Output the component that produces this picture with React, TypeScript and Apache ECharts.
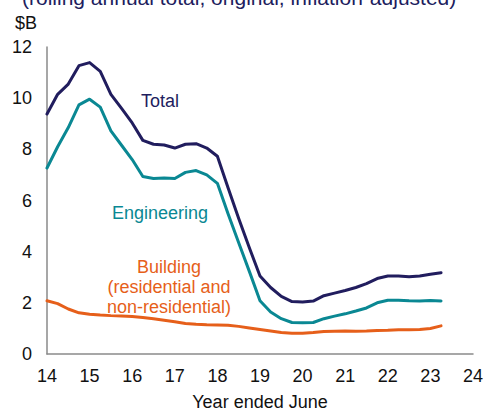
import React, { useEffect, useRef } from "react";
import * as echarts from "echarts";

const quarters = [
  14.0, 14.25, 14.5, 14.75, 15.0, 15.25, 15.5, 15.75, 16.0, 16.25, 16.5, 16.75,
  17.0, 17.25, 17.5, 17.75, 18.0, 18.25, 18.5, 18.75, 19.0, 19.25, 19.5, 19.75,
  20.0, 20.25, 20.5, 20.75, 21.0, 21.25, 21.5, 21.75, 22.0, 22.25, 22.5, 22.75,
  23.0, 23.25,
];

const total = [
  9.38, 10.15, 10.55, 11.27, 11.39, 11.05, 10.15, 9.6, 9.03, 8.35, 8.2, 8.17,
  8.05, 8.2, 8.22, 8.05, 7.73, 6.5, 5.3, 4.15, 3.05, 2.6, 2.25, 2.05,
  2.03, 2.07, 2.28, 2.38, 2.48, 2.6, 2.75, 2.95, 3.05, 3.05, 3.02, 3.05,
  3.12, 3.18,
];

const engineering = [
  7.27, 8.1, 8.85, 9.74, 9.96, 9.65, 8.72, 8.16, 7.6, 6.94, 6.86, 6.88,
  6.86, 7.1, 7.17, 7.0, 6.67, 5.48, 4.35, 3.23, 2.08, 1.64, 1.38, 1.23,
  1.22, 1.23, 1.38, 1.48, 1.57, 1.68, 1.8, 2.0, 2.1, 2.1, 2.08, 2.07,
  2.09, 2.07,
];

const building = [
  2.08, 1.97, 1.76, 1.61, 1.55, 1.52, 1.5, 1.49, 1.47, 1.43, 1.38, 1.32,
  1.26, 1.19, 1.16, 1.14, 1.13, 1.12, 1.08, 1.02, 0.96, 0.9, 0.84, 0.81,
  0.81, 0.84, 0.88, 0.89, 0.9, 0.89, 0.9, 0.92, 0.93, 0.95, 0.95, 0.96,
  1.0, 1.1,
];

const NAVY = "#211d5e";
const TEAL = "#0a8893";
const ORANGE = "#e65f1a";
const FONT = "'Liberation Sans', Arial, sans-serif";

const pairs = (ys: number[]) => quarters.map((q, i) => [q, ys[i]]);

export default function App() {
  const ref = useRef<HTMLDivElement>(null);
  useEffect(() => {
    if (!ref.current) return;
    const chart = echarts.init(ref.current, undefined, { renderer: "svg" });
    const lineSeries = (name: string, ys: number[], color: string) => ({
      name,
      type: "line",
      data: pairs(ys),
      showSymbol: false,
      symbol: "none",
      lineStyle: { color, width: 3, join: "round", cap: "round" },
      itemStyle: { color },
      z: 3,
    });
    chart.setOption({
      animation: false,
      backgroundColor: "#ffffff",
      textStyle: { fontFamily: FONT },
      grid: { left: 47, right: 12, top: 47, bottom: 47, containLabel: false },
      xAxis: {
        type: "value",
        min: 14,
        max: 24,
        interval: 1,
        axisLine: { show: true, lineStyle: { color: "#8a8a8a", width: 1.5 } },
        axisTick: { show: false },
        splitLine: { show: false },
        axisLabel: {
          color: "#111",
          fontSize: 18,
          fontFamily: FONT,
          margin: 13,
        },
        name: "Year ended June",
        nameLocation: "middle",
        nameGap: 39,
        nameTextStyle: { color: "#111", fontSize: 18, fontFamily: FONT },
      },
      yAxis: {
        type: "value",
        min: 0,
        max: 12,
        interval: 2,
        axisLine: { show: true, lineStyle: { color: "#8a8a8a", width: 1.5 } },
        axisTick: { show: false },
        splitLine: { show: false },
        axisLabel: {
          color: "#111",
          fontSize: 18,
          fontFamily: FONT,
          margin: 15,
        },
      },
      series: [
        lineSeries("Building", building, ORANGE),
        lineSeries("Engineering", engineering, TEAL),
        lineSeries("Total", total, NAVY),
      ],
      graphic: [
        {
          type: "text",
          x: 22,
          y: -3,
          style: {
            text: "(rolling annual total, original, inflation-adjusted)",
            fill: NAVY,
            font: `21px ${FONT}`,
            textVerticalAlign: "middle",
          },
        },
        {
          type: "text",
          x: 15,
          y: 23,
          style: {
            text: "$B",
            fill: "#111",
            font: `18px ${FONT}`,
            textVerticalAlign: "middle",
          },
        },
        {
          type: "text",
          x: 160,
          y: 101,
          style: {
            text: "Total",
            fill: NAVY,
            font: `18px ${FONT}`,
            textAlign: "center",
            textVerticalAlign: "middle",
          },
        },
        {
          type: "text",
          x: 160,
          y: 213,
          style: {
            text: "Engineering",
            fill: TEAL,
            font: `18px ${FONT}`,
            textAlign: "center",
            textVerticalAlign: "middle",
          },
        },
        {
          type: "text",
          x: 169,
          y: 287,
          style: {
            text: "Building\n(residential and\nnon-residential)",
            fill: ORANGE,
            font: `18px ${FONT}`,
            lineHeight: 20,
            textAlign: "center",
            textVerticalAlign: "middle",
          },
        },
      ],
    });
    return () => chart.dispose();
  }, []);
  return (
    <div
      ref={ref}
      style={{ position: "fixed", left: 0, top: 0, width: 486, height: 416 }}
    />
  );
}
